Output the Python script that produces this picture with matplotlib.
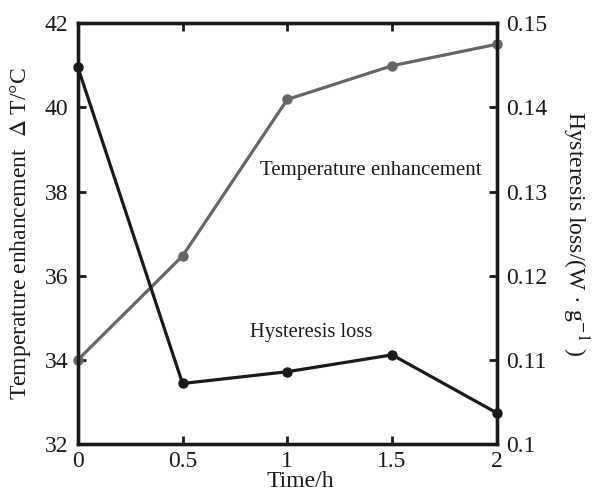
import matplotlib
matplotlib.use("Agg")
import matplotlib.pyplot as plt

plt.rcParams['font.family'] = ['Liberation Serif', 'DejaVu Serif']
plt.rcParams['mathtext.fontset'] = 'stix'

# time points (h)
time_h = [0, 0.5, 1, 1.5, 2]
# temperature enhancement, left axis (°C)
temp_rise = [34.0, 36.47, 40.19, 40.99, 41.5]
# hysteresis loss, right axis (W/g)
hyst_loss = [0.1448, 0.1072, 0.1086, 0.1106, 0.1037]

ink = '#1a1a1a'
fig = plt.figure(figsize=(6.03, 4.94), dpi=100)
ax = fig.add_axes([0.129, 0.101, 0.695, 0.852])
ax2 = ax.twinx()

ax.plot(time_h, temp_rise, color='#666666', lw=2.3, marker='o', ms=6.5,
        zorder=3, clip_on=False)
ax2.plot(time_h, hyst_loss, color=ink, lw=2.3, marker='o', ms=6.5,
         zorder=3, clip_on=False)

ax.set_xlim(0, 2)
ax.set_ylim(32, 42)
ax2.set_ylim(0.1, 0.15)
ax.set_xticks([0, 0.5, 1, 1.5, 2])
ax.set_xticklabels(['0', '0.5', '1', '1.5', '2'])
ax.set_yticks([32, 34, 36, 38, 40, 42])
ax2.set_yticks([0.1, 0.11, 0.12, 0.13, 0.14, 0.15])
ax2.set_yticklabels(['0.1', '0.11', '0.12', '0.13', '0.14', '0.15'])

ax.tick_params(axis='x', direction='in', top=True, length=6, width=2,
               labelsize=17, colors=ink, pad=5)
ax.tick_params(axis='y', direction='in', length=6, width=2,
               labelsize=17, colors=ink, pad=7)
ax2.tick_params(axis='y', direction='in', length=6, width=2,
                labelsize=17, colors=ink, pad=7)

for a in (ax, ax2):
    for s in a.spines.values():
        s.set_linewidth(2.4)
        s.set_color(ink)

ax.set_xlabel('Time/h', fontsize=17, color=ink, labelpad=-2)
ax.xaxis.set_label_coords(0.532, -0.063, transform=ax.transAxes)
ax.set_ylabel('Temperature enhancement  $\\Delta$ T/°C', fontsize=17,
              color=ink)
ax.yaxis.set_label_coords(-0.107, 0.5)
ax2.set_ylabel('Hysteresis loss/(W · g$^{-1}$ )', fontsize=17,
               color=ink, rotation=270, va='center')
ax2.yaxis.set_label_coords(1.186, 0.5)

ax.text(0.869, 38.5, 'Temperature enhancement', fontsize=15,
        color=ink, va='center')
ax.text(0.821, 34.64, 'Hysteresis loss', fontsize=14.8,
        color=ink, va='center')

fig.savefig('out.png', dpi=100)
